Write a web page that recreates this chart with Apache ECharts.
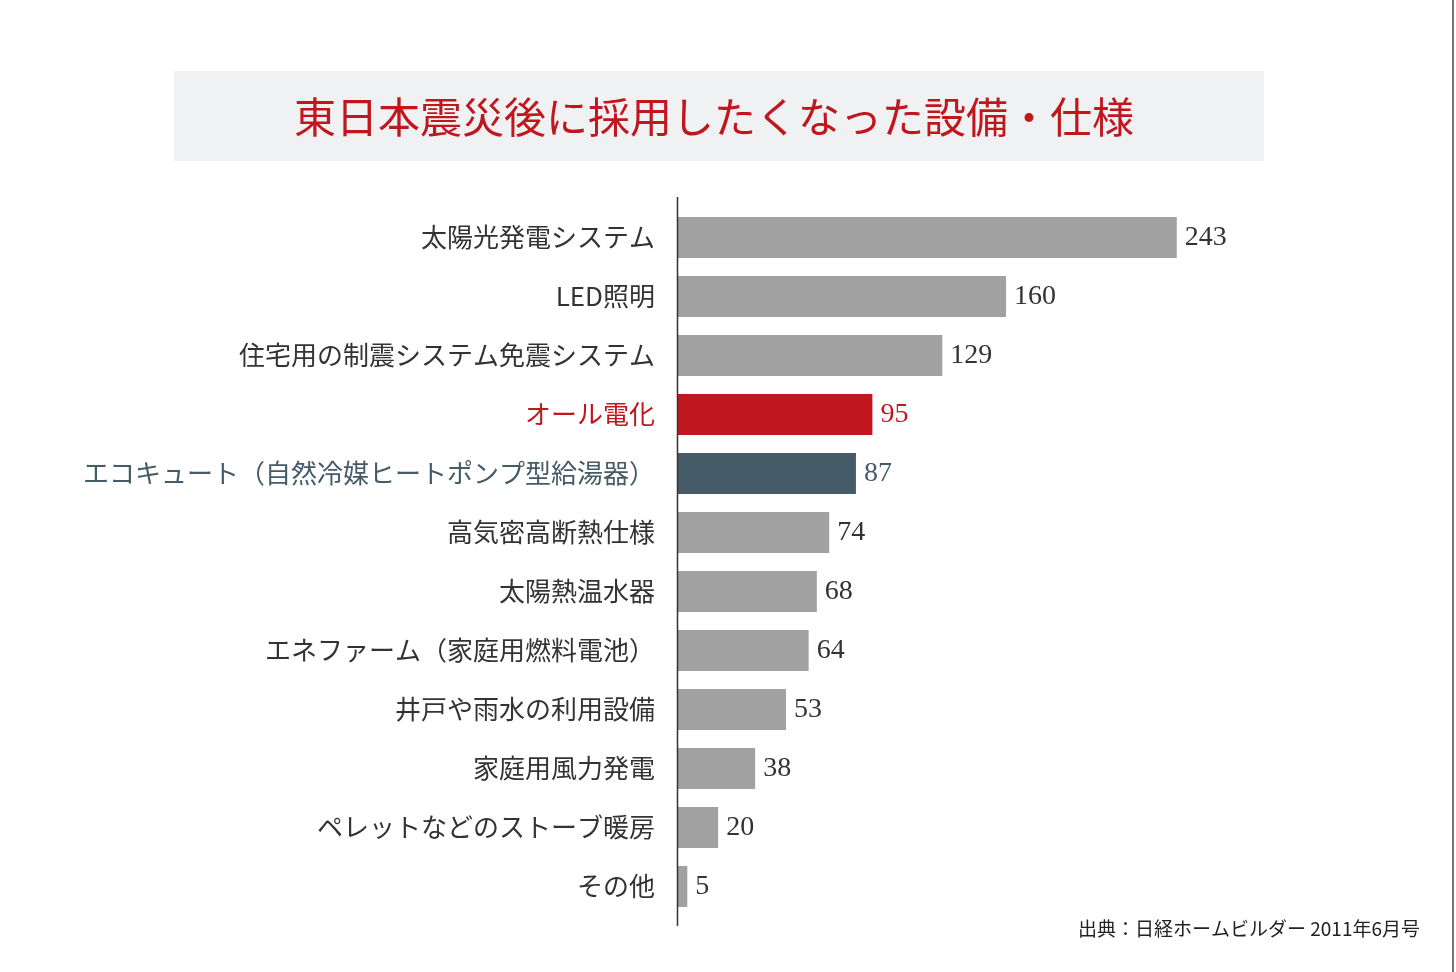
<!DOCTYPE html>
<html><head><meta charset="utf-8">
<script src="https://cdn.jsdelivr.net/npm/echarts@6/dist/echarts.min.js"></script>
<style>html,body{margin:0;padding:0;background:#fff}#c{width:1456px;height:972px}</style>
</head><body><div id="c"></div>
<script>
const titleText = '東日本震災後に採用したくなった設備・仕様';
const sourceText = '出典：日経ホームビルダー 2011年6月号';
const categories = ['太陽光発電システム','LED照明','住宅用の制震システム免震システム','オール電化','エコキュート（自然冷媒ヒートポンプ型給湯器）','高気密高断熱仕様','太陽熱温水器','エネファーム（家庭用燃料電池）','井戸や雨水の利用設備','家庭用風力発電','ペレットなどのストーブ暖房','その他'];
const values = [243,160,129,95,87,74,68,64,53,38,20,5];

const GRAY = '#a0a1a0', RED = '#c1181f', SLATE = '#455b68', TEXT = '#333333';
const highlight = {'オール電化': RED, 'エコキュート（自然冷媒ヒートポンプ型給湯器）': SLATE};
const JP = '"Noto Sans CJK JP", sans-serif';
const NUM = '"Liberation Serif", "DejaVu Serif", serif';

const chart = echarts.init(document.getElementById('c'), null, {renderer:'canvas'});
chart.setOption({
  animation:false,
  backgroundColor:'#fff',
  grid:{left:677, top:208, height:708, width:617, containLabel:false},
  xAxis:{type:'value', min:0, max:300, show:false},
  yAxis:{type:'category', inverse:true,
    data:categories.map(c=>({value:c, textStyle:{color: highlight[c]||TEXT}})),
    axisLine:{show:false}, axisTick:{show:false},
    axisLabel:{fontFamily:JP, fontSize:26, margin:22, color:TEXT}},
  series:[{type:'bar', barWidth:41,
    data:values.map((v,i)=>({value:v,
      itemStyle:{color: highlight[categories[i]]||GRAY},
      label:{color: highlight[categories[i]]||TEXT}})),
    label:{show:true, position:'right', distance:8, fontFamily:NUM, fontSize:28, color:TEXT}
  }],
  graphic:[
    {type:'rect', shape:{x:174,y:71,width:1090,height:90}, style:{fill:'#f0f1f3'}, z:-1},
    {type:'text', x:714, y:117, style:{text:titleText, fill:'#c0171f', font:'normal 42px '+JP, textAlign:'center', textVerticalAlign:'middle'}},
    {type:'line', shape:{x1:677.5,y1:197,x2:677.5,y2:926}, style:{stroke:'#333', lineWidth:1.5}, z:10},
    {type:'line', shape:{x1:1453,y1:0,x2:1453,y2:972}, style:{stroke:'#777', lineWidth:2}},
    {type:'text', x:1420, y:929, style:{text:sourceText, fill:'#222', font:'normal 19px '+JP, textAlign:'right', textVerticalAlign:'middle'}}
  ]
});
</script></body></html>
